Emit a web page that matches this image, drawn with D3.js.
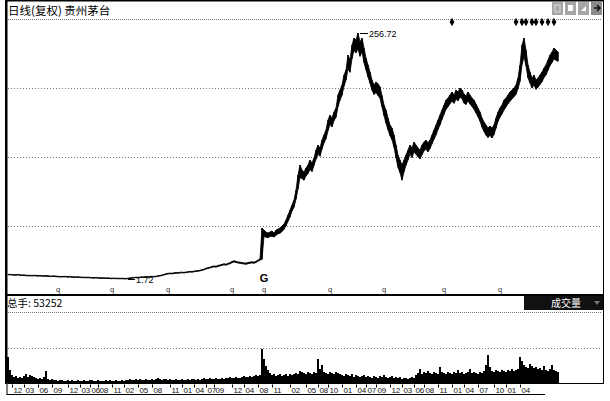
<!DOCTYPE html>
<html><head><meta charset="utf-8">
<script src="https://cdn.jsdelivr.net/npm/d3@7"></script>
<style>body{margin:0;background:#fff}svg{display:block}</style>
</head><body><svg id="c" width="610" height="401"></svg>
<script>
// ---- data (one slot ≈ two pixels of the original compressed daily chart) ----
const title = "日线(复权) 贵州茅台";
const volumeLabel = "总手: 53252";
const volumeTab = "成交量";
const reformLabel = "G";
const dividendLabel = "q";

const lows = [
 5.9,6.1,5.8,5.6,5.7,5.9,5.5, 5.3,5.4,5.1,4.9,5.0, 4.8,5.0,4.9,4.7,4.8, 4.6,4.5,4.7,4.4,4.3,
 4.2,4.4,4.1,3.9,3.8, 3.7,3.9,3.8,3.6,3.8, 3.5,3.4,3.3,3.5,3.2, 3.1,3.0,2.9,3.1,2.8,
 2.7,2.6,2.8,2.5,2.4, 2.3,2.5,2.2,2.3,2.1, 2.0,2.2,1.9,2.0,1.9, 1.9,1.8,1.72,2.0,2.3,
 2.5,2.8,3.0,2.9,3.2, 3.4,3.3,3.6,3.5,3.8, 3.9,3.7,4.1,4.5,4.8, 5.2,5.8,6.5,6.9,7.2,
 7.0,7.4,7.8,7.6,8.0, 8.1,7.9,8.3,8.6,8.9, 8.8,9.2,9.5,9.7,10.1, 10.6,11.2,12.0,12.6,13.1,
 13.8,14.3,14.0,14.8,15.3, 15.9,16.4,16.0,16.9,17.5, 18.6,19.4,18.9,18.2,18.0,
 17.6,17.2,17.0,17.5,18.1, 18.4,18.0,18.9,20.2,21.4,
 22.0,
 46.0,45.1,44.5,45.8,46.0,45.2,47.0,48.6,49.1,51.0,53.2,
 56.8,61.5,66.0,72.2,76.0,84.5,95.0,
 106.8,105.9,104.2,108.5,111.0,115.2,113.1,119.5,125.8,131.0,
 128.9,136.4,142.7,147.1,155.3,161.9,159.4,165.8,169.5,180.2,
 187.1,192.2,201.5,207.9,219.3,216.0,230.1,238.6,236.0,240.2,
 232.5,236.9,226.0,218.4,211.2,204.6,197.5,193.0,195.1,192.0,
 189.0,180.0,171.0,163.2,156.4,150.3,146.0,138.2,127.5,117.4,
 111.9,104.2,112.8,119.6,125.0,131.2,127.6,133.5,131.0,128.4,
 126.1,130.4,134.6,136.2,133.5,136.9,141.8,146.5,151.0,156.7,
 161.4,167.0,172.4,177.5,180.2,183.5,186.1,183.8,188.0,186.4,
 190.1,188.7,184.0,182.6,186.3,183.0,180.5,177.6,173.8,169.9,
 165.2,158.9,154.6,150.8,148.4,150.6,147.9,151.5,158.1,165.0,
 169.4,172.8,177.0,180.1,183.3,185.9,188.4,190.6,193.2,199.0,
 206.5,223.8,232.0,222.4,210.2,204.8,199.6,202.9,198.3,200.6,
 203.4,206.1,210.5,213.2,218.0,222.9,226.2,229.8,228.6,227.4
];
const highs = [
 6.4,6.6,6.3,6.2,6.4,6.5,6.1, 5.9,6.0,5.7,5.5,5.6, 5.4,5.6,5.5,5.3,5.4, 5.2,5.1,5.3,5.0,4.9,
 4.8,5.0,4.7,4.5,4.4, 4.3,4.5,4.4,4.2,4.4, 4.1,4.0,3.9,4.1,3.8, 3.7,3.6,3.5,3.7,3.4,
 3.3,3.2,3.4,3.1,3.0, 2.9,3.1,2.8,2.9,2.7, 2.6,2.8,2.5,2.6,2.5, 2.5,2.4,2.3,2.6,2.9,
 3.1,3.4,3.6,3.5,3.8, 4.0,3.9,4.2,4.1,4.4, 4.5,4.3,4.7,5.1,5.4, 5.9,6.5,7.2,7.6,7.9,
 7.7,8.1,8.5,8.3,8.7, 8.8,8.6,9.0,9.3,9.6, 9.5,9.9,10.2,10.4,10.9, 11.4,12.0,12.9,13.5,14.0,
 14.8,15.3,15.0,15.8,16.3, 16.9,17.5,17.1,18.0,18.7, 19.8,20.6,20.1,19.4,19.2,
 18.8,18.4,18.2,18.7,19.3, 19.6,19.2,20.1,21.4,22.6,
 54.6,52.5,50.4,49.4,50.4,51.5,49.4,52.5,53.5,54.6,56.7,58.7,62.9,68.1,73.2,78.4,83.6,94.0,109.5,
 119.9,114.7,112.6,116.8,119.9,125.1,122.0,127.2,135.4,140.6,137.5,145.8,151.0,156.2,166.5,
 171.7,168.6,174.8,179.0,192.5,197.6,202.8,213.2,218.4,233.9,228.7,244.3,251.5,249.5,256.72,
 247.4,251.5,241.2,230.8,223.6,216.3,208.0,202.8,205.9,204.0,201.0,192.0,182.1,176.9,168.6,
 161.4,158.2,151.0,140.6,130.3,125.1,119.9,125.1,130.3,135.4,140.6,137.5,143.7,140.6,137.5,
 135.4,140.6,143.7,145.8,142.7,145.8,151.0,156.2,161.4,166.5,171.7,176.9,182.1,187.3,189.4,
 192.5,195.6,192.5,197.6,195.6,199.7,197.6,193.5,191.4,195.6,192.5,189.4,187.3,183.1,179.0,
 174.8,168.6,164.5,161.4,158.2,160.3,158.2,161.4,168.6,174.8,179.0,182.1,187.3,189.4,192.5,
 195.6,197.6,199.7,202.8,210.1,223.6,244.3,251.5,239.1,223.6,216.3,210.1,213.2,208.0,210.1,
 213.2,216.3,220.4,223.6,228.7,233.9,237.0,241.2,239.1,237.0
];
const volumes = [
 74400,37200,22900,17200,20000,14300,17200,14300,20000,25700,
 17200,22900,20000,17200,14300,11400,14300,11400,17200,34300,
 11400,8600,11400,8600,8600,5700,8600,8600,5700,5700,
 8600,5700,8600,5700,5700,8600,5700,5700,8600,5700,
 5700,8600,8600,5700,5700,8600,5700,5700,5700,8600,
 5700,8600,5700,5700,8600,5700,5700,8600,5700,8600,
 8600,11400,8600,8600,11400,8600,11400,8600,8600,11400,
 8600,8600,11400,8600,11400,14300,11400,8600,11400,11400,
 8600,11400,8600,8600,11400,8600,8600,11400,8600,8600,
 11400,8600,11400,11400,8600,11400,8600,11400,14300,11400,
 11400,14300,11400,11400,14300,11400,11400,14300,11400,14300,
 14300,17200,14300,14300,17200,14300,14300,17200,20000,17200,
 17200,20000,17200,20000,22900,20000,22900,97200,68600,48600,
 37200,28600,22900,25700,20000,22900,25700,20000,22900,25700,
 20000,25700,22900,25700,28600,25700,34300,31500,28600,25700,
 31500,28600,25700,31500,28600,68600,40000,51500,31500,28600,
 25700,31500,28600,25700,31500,28600,25700,22900,20000,25700,
 22900,20000,25700,17200,22900,20000,17200,20000,22900,17200,
 20000,17200,14300,20000,17200,14300,20000,17200,22900,17200,
 14300,17200,20000,14300,17200,14300,17200,11400,14300,14300,
 11400,14300,17200,14300,22900,28600,40000,25700,31500,28600,
 34300,28600,25700,31500,28600,25700,45800,31500,28600,25700,
 31500,28600,25700,31500,28600,37200,28600,31500,25700,28600,
 31500,40000,28600,31500,28600,25700,31500,28600,34300,51500,
 80100,45800,34300,31500,37200,34300,31500,37200,34300,31500,
 37200,34300,40000,34300,37200,40000,74400,62900,51500,45800,
 42900,54300,48600,42900,45800,40000,42900,37200,48600,37200,
 34300,40000,51500,37200,34300,31500
];
const monthTicks = ["12","03","06","09","12","03","06","08","11","02","05","08","11","01","04","07","09","12","04","08","11","02","05","08","10","01","04","07","09","12","03","06","08","11","01","04","07","10","01","04"];
const monthTickSlots = [2,8,15,22,30,36,41,45,52,58,65,72,81,87,93,99,103,112,118,125,132,141,149,155,160,167,174,179,184,191,197,203,208,215,222,228,235,243,249,256];
const dividendSlots = [25,52,80,112,128,161,188,218,246];
const reformSlot = 128;
const infoMineSlots = [222,254,257,259,262,264,267,270,273];

// ---- drawing ----
const svg = d3.select("#c");
const TOTAL_SLOTS = 298;
const x = d3.scaleLinear().domain([0, TOTAL_SLOTS]).range([8, 604]);
const yP = d3.scaleLinear().domain([1.72, 256.72]).range([279, 33]);
const yV = d3.scaleLinear().domain([0, 200000]).range([383, 313]);
const rows = lows.map((lo, i) => ({i, lo, hi: highs[i]}));

// frame
svg.append("rect").attr("x",0).attr("y",0).attr("width",610).attr("height",401).attr("fill","#fff");
svg.append("line").attr("x1",5).attr("x2",604).attr("y1",0.75).attr("y2",0.75).attr("stroke","#000").attr("stroke-width",1.5);
svg.append("rect").attr("x",5).attr("y",0).attr("width",2.5).attr("height",384).attr("fill","#000");
svg.append("line").attr("x1",603.5).attr("x2",603.5).attr("y1",0).attr("y2",384).attr("stroke","#000");

// title
svg.append("text").attr("x",8).attr("y",15).attr("font-family","'Noto Sans CJK SC'").attr("font-size",11.5).attr("fill","#000").text(title);

// top-right tool icons
const icons = svg.append("g");
[552,565,578,591].forEach((ix, k) => {
  icons.append("rect").attr("x",ix).attr("y",2).attr("width",11).attr("height",13).attr("fill", k===3 ? "#8c8c8c" : "#a6a6a6");
});
icons.append("rect").attr("x",555).attr("y",5).attr("width",5).attr("height",7).attr("fill","none").attr("stroke","#ddd");
icons.append("rect").attr("x",568).attr("y",5).attr("width",5).attr("height",6).attr("fill","#fff");
icons.append("path").attr("d","M581,11 L586,6 L586,11 Z").attr("fill","#fff");
icons.append("path").attr("d","M594,8 L600,8 M597,5 L600,8 L597,11").attr("stroke","#111").attr("stroke-width",1.5).attr("fill","none");

// grid lines
const dotted = (y1, x1, x2, dash) => svg.append("line").attr("x1",x1).attr("x2",x2).attr("y1",y1).attr("y2",y1)
  .attr("stroke","#777").attr("stroke-width",1).attr("stroke-dasharray",dash);
dotted(19.5, 8, 602, "1,1");
[88.5,157.5,226.5].forEach(y => dotted(y, 8, 602, "1,2"));

// info-mine markers
svg.append("g").selectAll("path").data(infoMineSlots).join("path")
  .attr("transform", s => `translate(${x(s)},22)`)
  .attr("d", d3.symbol(d3.symbolDiamond).size(20)).attr("fill","#000");

// price bars (compressed daily high-low range)
svg.append("path").datum(rows)
  .attr("d", d3.area().x(d => x(d.i)).y0(d => yP(d.lo)).y1(d => yP(d.hi)))
  .attr("fill","#000").attr("stroke","#000").attr("stroke-width",0.8).attr("stroke-linejoin","round");
svg.append("g").selectAll("line").data(rows).join("line")
  .attr("x1", d => x(d.i)).attr("x2", d => x(d.i))
  .attr("y1", d => yP(d.hi)).attr("y2", d => yP(d.lo))
  .attr("stroke","#000").attr("stroke-width",1.2);

// max / min annotations
const iMax = d3.maxIndex(highs), iMin = d3.minIndex(lows);
const fmt = d3.format(".2f");
svg.append("line").attr("x1",x(iMax)+2).attr("x2",x(iMax)+10).attr("y1",yP(highs[iMax])+0.5).attr("y2",yP(highs[iMax])+0.5).attr("stroke","#000");
svg.append("text").attr("x",x(iMax)+11).attr("y",yP(highs[iMax])+3.5).attr("font-family","'Liberation Sans'").attr("font-size",9).attr("fill","#000").text(fmt(highs[iMax]));
svg.append("line").attr("x1",x(iMin)+2).attr("x2",x(iMin)+9).attr("y1",yP(lows[iMin])+0.5).attr("y2",yP(lows[iMin])+0.5).attr("stroke","#000");
svg.append("text").attr("x",x(iMin)+10).attr("y",yP(lows[iMin])+4).attr("font-family","'Liberation Sans'").attr("font-size",9).attr("fill","#000").text(fmt(lows[iMin]));

// dividend & reform markers
svg.append("g").selectAll("text").data(dividendSlots).join("text")
  .attr("x", s => x(s)).attr("y", 292).attr("text-anchor","middle")
  .attr("font-family","'Liberation Sans'").attr("font-size",7.5).attr("fill","#333").text(dividendLabel);
svg.append("text").attr("x", x(reformSlot)).attr("y",282).attr("text-anchor","middle")
  .attr("font-family","'Liberation Sans'").attr("font-weight","bold").attr("font-size",11).attr("fill","#000").text(reformLabel);

// panel separator
svg.append("line").attr("x1",6).attr("x2",604).attr("y1",295).attr("y2",295).attr("stroke","#000").attr("stroke-width",2);

// volume header
svg.append("text").attr("x",7).attr("y",307).attr("font-family","'Noto Sans CJK SC'").attr("font-size",10.5).attr("fill","#000").text(volumeLabel);
svg.append("rect").attr("x",524).attr("y",296).attr("width",79).attr("height",14).attr("fill","#111");
svg.append("text").attr("x",566).attr("y",307).attr("text-anchor","middle").attr("font-family","'Noto Sans CJK SC'").attr("font-size",10).attr("fill","#fff").text(volumeTab);
svg.append("path").attr("d","M594,301 L600,301 L597,305 Z").attr("fill","#777");

dotted(312.5, 8, 602, "1,1");
dotted(348.5, 8, 602, "1,2");

// volume bars
svg.append("g").attr("shape-rendering","crispEdges").selectAll("rect").data(volumes).join("rect")
  .attr("x",(v,i)=>x(i)-1).attr("width",2)
  .attr("y", v => yV(v)).attr("height", v => yV(0) - yV(v)).attr("fill","#000");
svg.append("line").attr("x1",8).attr("x2",604).attr("y1",383.5).attr("y2",383.5).attr("stroke","#000");

// time axis
const axis = d3.axisBottom(x).tickValues(monthTickSlots).tickFormat((d,k) => monthTicks[k]).tickSize(3).tickSizeOuter(0);
const ax = svg.append("g").attr("transform","translate(0,384.5)").call(axis);
ax.select(".domain").remove();
ax.selectAll(".tick line").attr("stroke","#000");
ax.selectAll(".tick text").attr("x",1).attr("y",2.5).attr("text-anchor","start")
  .attr("font-family","'Liberation Sans'").attr("font-size",8).attr("letter-spacing",-0.3).attr("fill","#111");
svg.append("line").attr("x1",7).attr("x2",7).attr("y1",383).attr("y2",395).attr("stroke","#000");
svg.append("line").attr("x1",7).attr("x2",545).attr("y1",394.5).attr("y2",394.5).attr("stroke","#000");
</script></body></html>
